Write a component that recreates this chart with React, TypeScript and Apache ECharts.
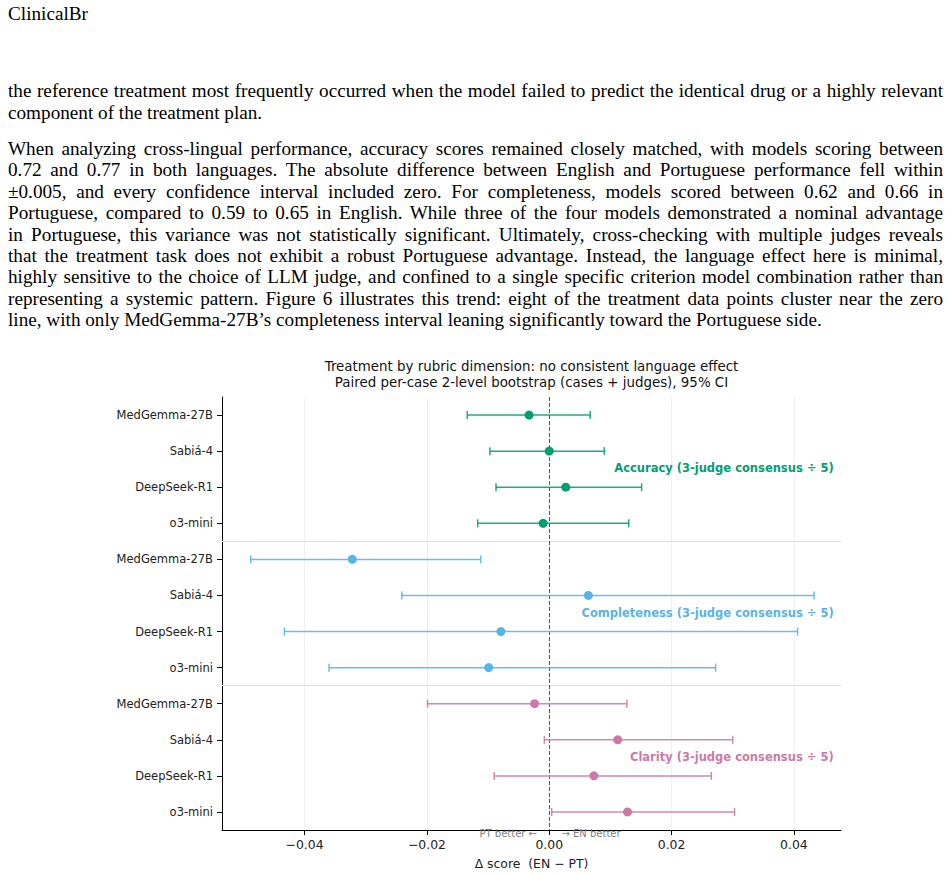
import React, { useEffect, useRef } from "react";
import * as echarts from "echarts";

// ---------- page text ----------
const headerText = "ClinicalBr";
const paragraph1Lines = [
  "the reference treatment most frequently occurred when the model failed to predict the identical drug or a highly relevant",
  "component of the treatment plan.",
];
const paragraph2Lines = [
  "When analyzing cross-lingual performance, accuracy scores remained closely matched, with models scoring between",
  "0.72 and 0.77 in both languages.  The absolute difference between English and Portuguese performance fell within",
  "±0.005, and every confidence interval included zero.  For completeness, models scored between 0.62 and 0.66 in",
  "Portuguese, compared to 0.59 to 0.65 in English. While three of the four models demonstrated a nominal advantage",
  "in Portuguese, this variance was not statistically significant. Ultimately, cross-checking with multiple judges reveals",
  "that the treatment task does not exhibit a robust Portuguese advantage. Instead, the language effect here is minimal,",
  "highly sensitive to the choice of LLM judge, and confined to a single specific criterion model combination rather than",
  "representing a systemic pattern. Figure 6 illustrates this trend: eight of the treatment data points cluster near the zero",
  "line, with only MedGemma-27B\u2019s completeness interval leaning significantly toward the Portuguese side.",
];

// ---------- chart data ----------
const titleLines = [
  "Treatment by rubric dimension: no consistent language effect",
  "Paired per-case 2-level bootstrap (cases + judges), 95% CI",
];
const xAxisTitle = "\u0394 score  (EN \u2212 PT)";
const directionLabels = ["PT better \u2190", "\u2192 EN better"];
const models = ["MedGemma-27B", "Sabiá-4", "DeepSeek-R1", "o3-mini"];
const dimensionLabels = [
  "Accuracy (3-judge consensus ÷ 5)",
  "Completeness (3-judge consensus ÷ 5)",
  "Clarity (3-judge consensus ÷ 5)",
];
const accuracyEst = [-0.0033, 0.0, 0.0027, -0.001];
const accuracyLow = [-0.0134, -0.0097, -0.0087, -0.0117];
const accuracyHigh = [0.0067, 0.009, 0.0151, 0.013];
const completenessEst = [-0.0322, 0.0064, -0.0079, -0.0099];
const completenessLow = [-0.0488, -0.0241, -0.0433, -0.036];
const completenessHigh = [-0.0112, 0.0433, 0.0406, 0.0272];
const clarityEst = [-0.0024, 0.0112, 0.0073, 0.0128];
const clarityLow = [-0.0199, -0.0008, -0.009, 0.0004];
const clarityHigh = [0.0127, 0.03, 0.0265, 0.0303];
const xTickValues = [-0.04, -0.02, 0, 0.02, 0.04];

const dimensionColors = ["#009E73", "#56B4E9", "#CC79A7"];
const FONT = "DejaVu Sans";

function Chart() {
  const ref = useRef<HTMLDivElement>(null);
  useEffect(() => {
    if (!ref.current) return;
    const chart = echarts.init(ref.current, null, { renderer: "svg" });
    const W = 940;
    const grid = { left: 222, right: 99, top: 57, bottom: 47 };
    const plotCenter = grid.left + (W - grid.left - grid.right) / 2;

    const dims = [
      { est: accuracyEst, low: accuracyLow, high: accuracyHigh },
      { est: completenessEst, low: completenessLow, high: completenessHigh },
      { est: clarityEst, low: clarityLow, high: clarityHigh },
    ];
    const rowLabels: string[] = [];
    dims.forEach(() => models.forEach((m) => rowLabels.push(m)));
    const rowIds = rowLabels.map((_, i) => String(i));

    const fmt = (v: number) => {
      const r = Math.round(v * 1000) / 1000;
      return (r < 0 ? "\u2212" : "") + Math.abs(r).toFixed(2);
    };

    const series: any[] = [];
    dims.forEach((d, di) => {
      const color = dimensionColors[di];
      series.push({
        type: "custom",
        xAxisIndex: 0,
        yAxisIndex: 1,
        z: 3,
        silent: true,
        encode: { x: [0, 1], y: 2 },
        data: models.map((_, mi) => [d.low[mi], d.high[mi], di * 4 + mi]),
        renderItem: (_p: any, api: any) => {
          const y = api.value(2);
          const p1 = api.coord([api.value(0), y]);
          const p2 = api.coord([api.value(1), y]);
          const style = { stroke: color, lineWidth: 1.5, opacity: 0.88 };
          return {
            type: "group",
            children: [
              { type: "line", shape: { x1: p1[0], y1: p1[1], x2: p2[0], y2: p2[1] }, style },
              { type: "line", shape: { x1: p1[0], y1: p1[1] - 4, x2: p1[0], y2: p1[1] + 4 }, style },
              { type: "line", shape: { x1: p2[0], y1: p2[1] - 4, x2: p2[0], y2: p2[1] + 4 }, style },
            ],
          };
        },
      });
      const sc: any = {
        type: "scatter",
        xAxisIndex: 0,
        yAxisIndex: 1,
        z: 4,
        silent: true,
        symbol: "circle",
        symbolSize: 9,
        itemStyle: { color, opacity: 1 },
        data: models.map((_, mi) => [d.est[mi], di * 4 + mi]),
      };
      if (di === 0) {
        sc.markLine = {
          silent: true,
          symbol: "none",
          label: { show: false },
          z: 1,
          data: [
            ...xTickValues
              .filter((v) => v !== 0)
              .map((v) => ({ xAxis: v, lineStyle: { color: "#dcdcdc", width: 0.8, type: "dotted" } })),
            { yAxis: 3.5, lineStyle: { color: "#dddddd", width: 1.2, type: "solid" } },
            { yAxis: 7.5, lineStyle: { color: "#dddddd", width: 1.2, type: "solid" } },
            { xAxis: 0, lineStyle: { color: "#555555", width: 1, type: [4, 2] } },
          ],
        };
      }
      series.push(sc);
    });

    // dimension labels
    series.push({
      type: "custom",
      xAxisIndex: 0,
      yAxisIndex: 1,
      z: 5,
      silent: true,
      data: dimensionLabels.map((_, di) => [0.0465, di * 4 + 1.48]),
      renderItem: (params: any, api: any) => {
        const p = api.coord([api.value(0), api.value(1)]);
        return {
          type: "text",
          x: p[0],
          y: p[1],
          style: {
            text: dimensionLabels[params.dataIndex],
            fill: dimensionColors[params.dataIndex],
            fontFamily: FONT,
            fontSize: 11.5,
            fontWeight: "bold",
            align: "right",
            verticalAlign: "middle",
          },
        };
      },
    });
    // direction labels
    series.push({
      type: "custom",
      xAxisIndex: 0,
      yAxisIndex: 1,
      z: 1,
      silent: true,
      data: [
        [-0.002, 11.6],
        [0.002, 11.6],
      ],
      renderItem: (params: any, api: any) => {
        const p = api.coord([api.value(0), api.value(1)]);
        return {
          type: "text",
          x: p[0],
          y: p[1],
          style: {
            text: directionLabels[params.dataIndex],
            fill: "#808080",
            fontFamily: FONT,
            fontSize: 10,
            align: params.dataIndex === 0 ? "right" : "left",
            verticalAlign: "middle",
          },
        };
      },
    });

    chart.setOption({
      animation: false,
      backgroundColor: "#ffffff",
      grid: { ...grid, containLabel: false },
      graphic: [
        {
          type: "text",
          x: plotCenter,
          y: 18,
          style: {
            text: titleLines.join("\n"),
            fill: "#111111",
            fontFamily: FONT,
            fontSize: 13.4,
            lineHeight: 16,
            align: "center",
            verticalAlign: "top",
          },
        },
      ],
      xAxis: {
        type: "value",
        min: -0.0535,
        max: 0.0477,
        axisLine: { show: true, onZero: false, lineStyle: { color: "#000000", width: 1 } },
        axisTick: { show: true, length: 5, customValues: xTickValues, lineStyle: { color: "#000000" } },
        axisLabel: {
          customValues: xTickValues,
          formatter: (v: number) => fmt(v),
          fontFamily: FONT,
          fontSize: 12.4,
          color: "#222222",
          margin: 8,
        },
        splitLine: { show: false },
        name: xAxisTitle,
        nameLocation: "middle",
        nameGap: 27,
        nameTextStyle: { fontFamily: FONT, fontSize: 12.4, color: "#222222" },
      },
      yAxis: [
        {
          type: "category",
          data: rowIds,
          inverse: true,
          axisLine: { show: true, onZero: false, lineStyle: { color: "#000000", width: 1 } },
          axisTick: { show: true, alignWithLabel: true, length: 5, lineStyle: { color: "#000000" } },
          axisLabel: {
            interval: 0,
            formatter: (_v: string, i: number) => rowLabels[i],
            fontFamily: FONT,
            fontSize: 11.5,
            color: "#222222",
            margin: 9,
          },
          splitLine: { show: false },
        },
        {
          type: "value",
          min: -0.5,
          max: 11.5,
          inverse: true,
          show: false,
          axisLine: { onZero: false },
          splitLine: { show: false },
        },
      ],
      series,
    });
    return () => chart.dispose();
  }, []);
  return (
    <div
      ref={ref}
      style={{ position: "absolute", left: 0, top: 340, width: 940, height: 537 }}
    />
  );
}

const serif = "'Liberation Serif', 'Times New Roman', serif";
const LH = 21.4;

function Line({ text, justify }: { text: string; justify: boolean }) {
  return (
    <div
      style={{
        height: LH,
        lineHeight: LH + "px",
        whiteSpace: "nowrap",
        textAlign: justify ? "justify" : "left",
        textAlignLast: justify ? "justify" : "left",
      } as any}
    >
      {text}
    </div>
  );
}

export default function App() {
  return (
    <div
      style={{
        position: "absolute",
        left: 0,
        top: 0,
        width: 951,
        height: 877,
        overflow: "hidden",
        background: "#ffffff",
        color: "#000000",
        fontFamily: serif,
        fontSize: 19.2,
      }}
    >
      <div style={{ position: "absolute", left: 8, top: 3, lineHeight: LH + "px" }}>{headerText}</div>
      <div style={{ position: "absolute", left: 8, top: 80.3, width: 935 }}>
        {paragraph1Lines.map((t, i) => (
          <Line key={i} text={t} justify={i < paragraph1Lines.length - 1} />
        ))}
      </div>
      <div style={{ position: "absolute", left: 8, top: 138, width: 935 }}>
        {paragraph2Lines.map((t, i) => (
          <Line key={i} text={t} justify={i < paragraph2Lines.length - 1} />
        ))}
      </div>
      <Chart />
    </div>
  );
}
